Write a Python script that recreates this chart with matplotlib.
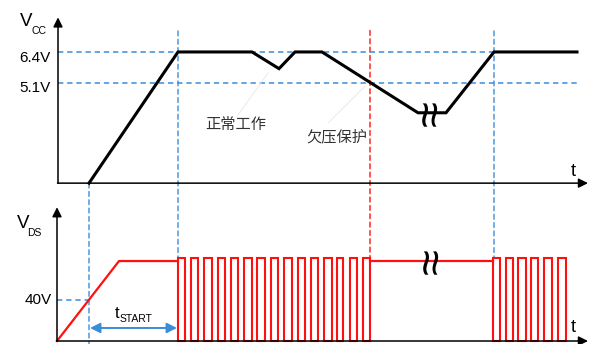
import matplotlib
matplotlib.use("Agg")
import matplotlib.pyplot as plt
from matplotlib.patches import ConnectionPatch

plt.rcParams['font.family'] = ['Liberation Sans', 'Noto Sans CJK SC', 'DejaVu Sans']

W, H = 589, 344
BLUE = '#3A8DD8'
RED = '#FF1010'

# VCC waveform (time in arbitrary units, voltage in V)
t_vcc = [89, 178, 252, 279, 295, 322, 418, 446, 494, 577]
vcc = [0.9, 6.4, 6.4, 5.7, 6.4, 6.4, 3.85, 3.85, 6.4, 6.4]
vcc_axis = 0.9          # level of the top time axis
vcc_levels = [6.4, 5.1]
vcc_labels = ['6.4V', '5.1V']

# VDS waveform
t_vds = [57, 119, 178]
vds = [0, 78, 78]
t_hold = [370, 493]
vds_hold = 78
pulse_high = 81
burst1_start = [178.3, 190.7, 204, 217.7, 231, 244, 257.3, 271, 284.3, 297.7,
                310.7, 324, 336.7, 350, 363.3]
burst1_end = [185, 198.3, 211.7, 225, 238.3, 251.7, 265, 278.3, 291.7, 305,
              318.3, 331.7, 343.3, 357.3, 370]
burst2_start = [493.3, 506, 518.3, 531, 544.3, 557.7]
burst2_end = [500, 513.3, 525.7, 538.3, 551.7, 566]
vds_ref = 40

# event times
t_power = 89      # VCC starts rising / VDS reaches 40V
t_start = 178     # switching starts
t_uvlo = 370      # undervoltage lockout
t_restart = 494   # switching restarts
t_break = 432


def px(x, y):
    return x / W, 1 - y / H


def panel(y0, y1, v0, v1):
    ax = fig.add_axes([0, 1 - y1 / H, 1, (y1 - y0) / H])
    ax.set_xlim(0, W)
    ax.set_ylim(v1, v0)
    ax.axis('off')
    return ax


fig = plt.figure(figsize=(W / 100, H / 100), dpi=100)
# top panel: y_px = 204.6 - 23.85 * V
ax1 = panel(0, 195, 204.6 / 23.85, (204.6 - 195) / 23.85)
# bottom panel: y_px = 341 - 1.025 * V
ax2 = panel(195, 344, (341 - 195) / 1.025, (341 - 344) / 1.025)

dash = (0, (3.5, 2.5))
head = dict(color='black', lw=1.1, mutation_scale=14, shrinkA=0, shrinkB=0)
brk = dict(rotation=90, fontsize=34, family=['Liberation Sans', 'DejaVu Sans'],
           ha='center', va='center', zorder=5, rotation_mode='anchor')

# --- top panel ---
for lv in vcc_levels:
    ax1.plot([58, 578], [lv, lv], color=BLUE, lw=1.1, ls=dash, zorder=1)
ax1.plot(t_vcc, vcc, color='black', lw=2.2, solid_joinstyle='miter', zorder=3)
ax1.annotate('', xy=(58, 7.85), xytext=(58, vcc_axis),
             arrowprops=dict(arrowstyle='-|>', **head))
ax1.annotate('', xy=(588, vcc_axis), xytext=(57.5, vcc_axis),
             arrowprops=dict(arrowstyle='-|>', **head))
# leader lines
ax1.plot([268, 238], [5.52, 3.76], color='#e6e6e6', lw=0.6)
ax1.plot([365, 328], [4.97, 3.42], color='#e6e6e6', lw=0.6)
ax1.text(t_break + 1, 3.85, '\u2248', **brk)

# --- bottom panel ---
ax2.plot([57, t_power], [vds_ref, vds_ref], color=BLUE, lw=1.1, ls=dash, zorder=1)
ax2.plot(t_vds, vds, color=RED, lw=1.6, zorder=3)
ax2.plot(t_hold, [vds_hold, vds_hold], color=RED, lw=1.6, zorder=3)
for s, e in zip(burst1_start + burst2_start, burst1_end + burst2_end):
    ax2.bar(s, pulse_high, width=e - s, align='edge', fill=False,
            edgecolor=RED, lw=1.5, zorder=3)
ax2.annotate('', xy=(57, 130.5), xytext=(57, 0),
             arrowprops=dict(arrowstyle='-|>', **head))
ax2.annotate('', xy=(588, 0), xytext=(56.5, 0),
             arrowprops=dict(arrowstyle='-|>', **head), zorder=4)
ax2.annotate('', xy=(t_start - 1, 12.7), xytext=(t_power + 1, 12.7),
             arrowprops=dict(arrowstyle='<|-|>', color=BLUE, lw=1.4,
                             mutation_scale=15, shrinkA=0, shrinkB=0))
ax2.text(t_break + 2, vds_hold, '\u2248', **brk)

# --- vertical guides across both panels ---
guides = [(t_power, vcc_axis, -2.9, BLUE), (t_start, 7.28, pulse_high, BLUE),
          (t_restart, 7.28, pulse_high, BLUE), (t_uvlo, 7.3, pulse_high, RED)]
for t, top, bot, c in guides:
    cp = ConnectionPatch(xyA=(t, top), coordsA=ax1.transData,
                         xyB=(t, bot), coordsB=ax2.transData,
                         color=c, lw=1.0, ls=dash, zorder=0)
    fig.add_artist(cp)

# --- labels ---
fig.text(*px(26, 22), 'V', fontsize=13.5, ha='center', va='center')
fig.text(*px(31.5, 31.5), 'CC', fontsize=7.5, ha='left', va='center')
fig.text(*px(51, 57.5), vcc_labels[0], fontsize=11, ha='right', va='center')
fig.text(*px(51, 87.5), vcc_labels[1], fontsize=11, ha='right', va='center')
fig.text(*px(236, 125), '正常工作', fontsize=11, color='#333333', ha='center', va='center')
fig.text(*px(337, 137), '欠压保护', fontsize=11, color='#333333', ha='center', va='center')
fig.text(*px(573, 171), 't', fontsize=13, ha='center', va='center')
fig.text(*px(23, 224), 'V', fontsize=13.5, ha='center', va='center')
fig.text(*px(27.5, 233.5), 'DS', fontsize=7.5, ha='left', va='center')
fig.text(*px(52, 300.5), '40V', fontsize=11, ha='right', va='center')
fig.text(*px(117.5, 313), 't', fontsize=12, ha='center', va='center')
fig.text(*px(120, 318.5), 'START', fontsize=7.5, ha='left', va='center')
fig.text(*px(573, 327), 't', fontsize=13, ha='center', va='center')

fig.savefig('out.png', dpi=100)
